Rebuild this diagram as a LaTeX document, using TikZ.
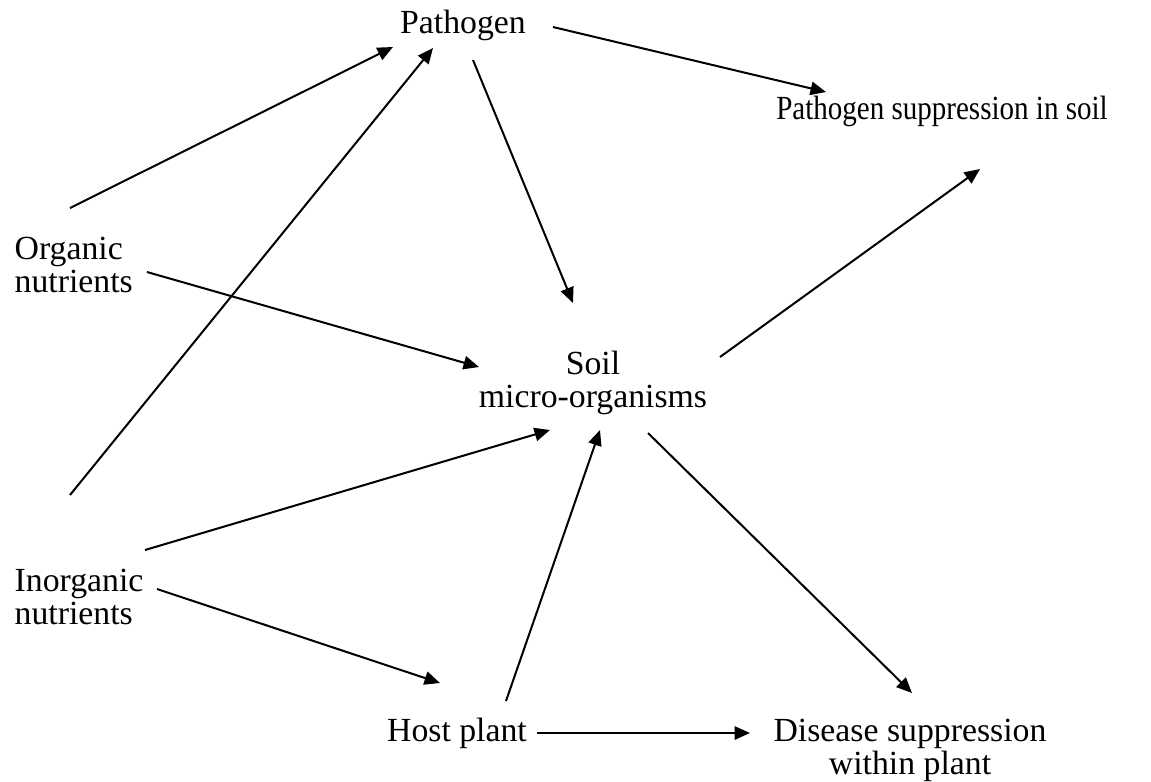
\documentclass[tikz,border=0pt]{standalone}
\usepackage{fontspec}
\setmainfont{Liberation Serif}
\usetikzlibrary{arrows.meta,calc,positioning}

\tikzset{
    label/.style={inner sep=0pt, font=\fontsize{9.6}{9.39}\selectfont},
    arr/.style={line width=0.57pt, -{Triangle[length=4.4pt, width=3.8pt]}}
}

\begin{document}
\begin{tikzpicture}[x=0.01cm, y=-0.01cm]
    \useasboundingbox (0,0) rectangle (1151,781);

    % factors
    \node[label, anchor=base] (pat) at (463,33) {Pathogen};
    \node[label, anchor=base] (pss) at (942,119) {\scalebox{0.86}[1]{Pathogen suppression in soil}};
    \node[label, align=left, anchor=north west] (org) at (14,236) {Organic\\nutrients};
    \node[label, align=center, anchor=north] (soil) at (593,350) {Soil\\micro-organisms};
    \node[label, align=left, anchor=north west] (inorg) at (14,568) {Inorganic\\nutrients};
    \node[label, anchor=base] (host) at (457,741) {Host plant};
    \node[label, align=center, anchor=north] (dis) at (910,718) {Disease suppression\\within plant};

    % influences
    \draw[arr] ($(org.north west)+(56,-28)$) -- ($(pat.base)+(-70,14)$);
    \draw[arr] ($(inorg.north west)+(56,-73)$) -- ($(pat.base)+(-30,15)$);
    \draw[arr] ($(pat.base)+(90,-6)$) -- ($(pss.base)+(-116,-27)$);
    \draw[arr] ($(pat.base)+(10,27)$) -- ($(soil.north)+(-20,-47)$);
    \draw[arr] ($(org.north west)+(133,36)$) -- ($(soil.north)+(-114,17)$);
    \draw[arr] ($(soil.north)+(127,7)$) -- ($(pss.base)+(38,50)$);
    \draw[arr] ($(inorg.north west)+(131,-18)$) -- ($(soil.north)+(-43,80)$);
    \draw[arr] ($(host.base)+(49,-40)$) -- ($(soil.north)+(7,80)$);
    \draw[arr] ($(soil.north)+(55,83)$) -- ($(dis.north)+(2,-25)$);
    \draw[arr] ($(inorg.north west)+(143,21)$) -- ($(host.base)+(-17,-58)$);
    \draw[arr] ($(host.base)+(80,-8)$) -- ($(dis.north)+(-160,15)$);
\end{tikzpicture}
\end{document}
